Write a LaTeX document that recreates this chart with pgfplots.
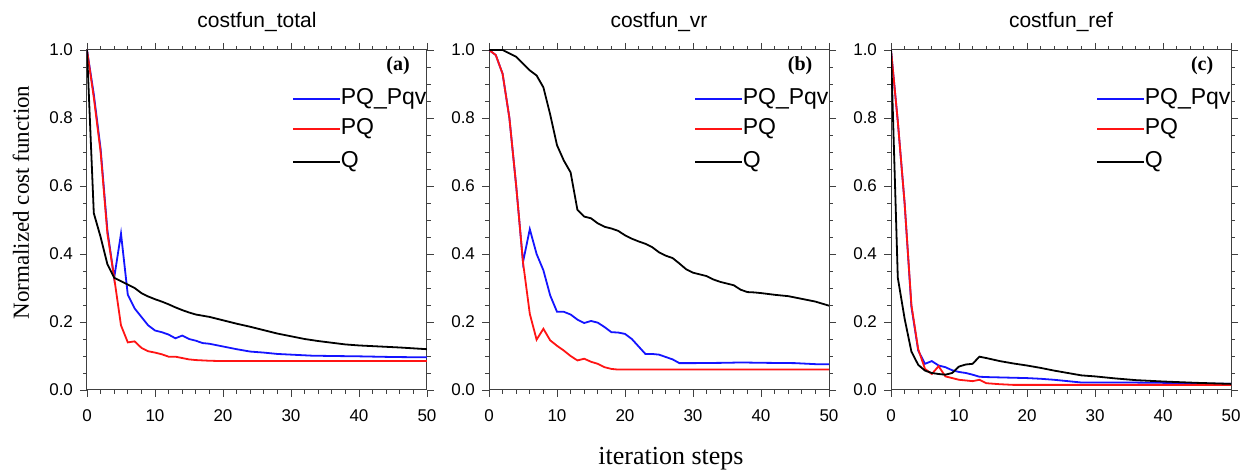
\documentclass[border=0pt]{standalone}
\usepackage{fontspec}
\setmainfont{Liberation Sans}
\newfontfamily\timesfont{Liberation Serif}
\usepackage{pgfplots}
\pgfplotsset{compat=1.18}

\pgfplotsset{panel/.style={
  width=170pt,height=170pt,scale only axis,
  xmin=0,xmax=50,ymin=0,ymax=1,
  xtick={0,10,...,50},minor x tick num=4,
  ytick={0,0.2,0.4,0.6,0.8,1.0},minor y tick num=3,
  tick align=outside,major tick length=3.5pt,minor tick length=1.8pt,
  tick style={black!75,line width=0.4pt},
  axis line style={black!75,line width=0.5pt},
  /pgf/number format/assume math mode=true,
  yticklabel style={/pgf/number format/.cd,fixed,fixed zerofill,precision=1},
  xticklabel style={yshift=-3pt},
  tick label style={font=\fontsize{8.5}{9}\selectfont},
  title style={font=\fontsize{10.5}{12}\selectfont,at={(0.5,1)},anchor=base,yshift=5pt},
  every axis plot/.append style={line width=0.9pt},
}}
\definecolor{ncblue}{RGB}{20,20,255}
\definecolor{ncred}{RGB}{255,20,20}
% legend: three entries, line then text
\newcommand\keys{%
  \draw[ncblue,line width=0.8pt] (rel axis cs:0.606,0.856) -- ++(23.5pt,0)
    node[anchor=west,inner sep=0pt,text=black,font=\fontsize{11.5}{14}\selectfont] {PQ\_Pqv};
  \draw[ncred,line width=0.8pt] (rel axis cs:0.606,0.768) -- ++(23.5pt,0)
    node[anchor=west,inner sep=0pt,text=black,font=\fontsize{11.5}{14}\selectfont] {PQ};
  \draw[black,line width=0.8pt] (rel axis cs:0.606,0.671) -- ++(23.5pt,0)
    node[anchor=west,inner sep=0pt,text=black,font=\fontsize{11.5}{14}\selectfont] {Q};
}

\begin{document}
\begin{tikzpicture}
% (a) total
\begin{axis}[panel,at={(43.5pt,40pt)},title={costfun\_total}]
\addplot[draw=ncblue] coordinates {(0,1.0)(1,0.87)(2,0.71)(3,0.47)(4,0.33)(5,0.46)(6,0.28)(7,0.24)(8,0.215)(9,0.19)
  (10,0.175)(11,0.17)(12,0.163)(13,0.152)(14,0.16)(15,0.15)(16,0.145)(17,0.138)(18,0.136)(19,0.132)(20,0.128)
  (22,0.12)(24,0.113)(26,0.11)(28,0.106)(30,0.104)(33,0.101)(36,0.1)(40,0.099)(45,0.097)(50,0.096)};
\addplot[draw=ncred] coordinates {(0,1.0)(1,0.86)(2,0.7)(3,0.46)(4,0.33)(5,0.19)(6,0.14)(7,0.143)(8,0.124)(9,0.114)
  (10,0.11)(11,0.105)(12,0.098)(13,0.098)(14,0.094)(15,0.09)(16,0.088)(18,0.086)(20,0.085)(50,0.085)};
\addplot[draw=black] coordinates {(0,1.0)(1,0.52)(2,0.45)(3,0.37)(4,0.33)(5,0.32)(6,0.31)(7,0.3)(8,0.285)(9,0.275)
  (10,0.267)(11,0.26)(12,0.252)(13,0.243)(14,0.235)(15,0.228)(16,0.222)(18,0.215)(20,0.205)(22,0.195)(24,0.186)
  (26,0.176)(28,0.166)(30,0.158)(32,0.15)(34,0.144)(36,0.139)(38,0.134)(40,0.131)(43,0.128)(46,0.125)(50,0.12)};
\keys
\node[font=\timesfont\bfseries\fontsize{10}{12}\selectfont] at (rel axis cs:0.915,0.953) {(a)};
\end{axis}
% (b) vr
\begin{axis}[panel,at={(244.5pt,40pt)},title={costfun\_vr}]
\addplot[draw=ncblue] coordinates {(0,1.0)(1,0.985)(2,0.93)(3,0.8)(4,0.6)(5,0.376)(6,0.473)(7,0.4)(8,0.352)(9,0.278)
  (10,0.23)(11,0.23)(12,0.222)(13,0.207)(14,0.197)(15,0.203)(16,0.198)(17,0.185)(18,0.17)(19,0.169)(20,0.165)
  (21,0.15)(22,0.128)(23,0.106)(24,0.106)(25,0.104)(26,0.097)(27,0.09)(28,0.079)(30,0.079)(35,0.08)(37,0.081)
  (40,0.08)(45,0.079)(48,0.076)(50,0.076)};
\addplot[draw=ncred] coordinates {(0,1.0)(1,0.985)(2,0.93)(3,0.8)(4,0.6)(5,0.376)(6,0.224)(7,0.148)(8,0.18)(9,0.146)
  (10,0.13)(11,0.116)(12,0.1)(13,0.087)(14,0.092)(15,0.083)(16,0.077)(17,0.067)(18,0.062)(19,0.06)(50,0.06)};
\addplot[draw=black] coordinates {(0,1.0)(2,1.0)(3,0.99)(4,0.98)(5,0.96)(6,0.94)(7,0.925)(8,0.89)(9,0.81)(10,0.72)
  (11,0.675)(12,0.64)(13,0.53)(14,0.51)(15,0.505)(16,0.49)(17,0.48)(18,0.475)(19,0.468)(20,0.455)(21,0.445)
  (22,0.437)(23,0.43)(24,0.42)(25,0.405)(26,0.395)(27,0.388)(28,0.372)(29,0.355)(30,0.345)(31,0.34)(32,0.335)
  (33,0.325)(34,0.318)(35,0.313)(36,0.308)(37,0.295)(38,0.288)(39,0.287)(40,0.285)(42,0.28)(44,0.276)
  (46,0.268)(48,0.26)(50,0.248)};
\keys
\node[font=\timesfont\bfseries\fontsize{10}{12}\selectfont] at (rel axis cs:0.915,0.953) {(b)};
\end{axis}
% (c) ref
\begin{axis}[panel,at={(445.5pt,40pt)},title={costfun\_ref}]
\addplot[draw=ncblue] coordinates {(0,1.0)(1,0.79)(2,0.55)(3,0.245)(4,0.116)(5,0.077)(6,0.085)(7,0.072)(8,0.067)(9,0.058)
  (10,0.053)(11,0.05)(12,0.045)(13,0.039)(14,0.038)(16,0.037)(18,0.036)(20,0.035)(22,0.033)(24,0.03)(26,0.026)
  (28,0.022)(35,0.022)(40,0.021)(45,0.019)(50,0.018)};
\addplot[draw=ncred] coordinates {(0,1.0)(1,0.79)(2,0.55)(3,0.25)(4,0.12)(5,0.062)(6,0.047)(7,0.07)(8,0.04)(9,0.035)
  (10,0.03)(11,0.028)(12,0.026)(13,0.03)(14,0.02)(16,0.017)(18,0.015)(50,0.015)};
\addplot[draw=black] coordinates {(0,1.0)(1,0.33)(2,0.21)(3,0.113)(4,0.074)(5,0.057)(6,0.05)(7,0.047)(8,0.045)(9,0.05)
  (10,0.069)(11,0.075)(12,0.077)(13,0.098)(14,0.094)(16,0.085)(18,0.078)(20,0.072)(22,0.065)(24,0.057)(26,0.05)
  (28,0.043)(30,0.04)(33,0.034)(36,0.029)(40,0.025)(45,0.021)(50,0.018)};
\keys
\node[font=\timesfont\bfseries\fontsize{10}{12}\selectfont] at (rel axis cs:0.915,0.953) {(c)};
\end{axis}
\node[rotate=90,font=\timesfont\fontsize{11.5}{13}\selectfont] at (10.5pt,133.75pt) {Normalized cost function};
\node[anchor=base,font=\timesfont\fontsize{13}{15}\selectfont,inner sep=0pt] at (335.5pt,2.5pt) {iteration steps};
\pgfresetboundingbox
\path[use as bounding box] (0,0) rectangle (624.5pt,235pt);
\end{tikzpicture}
\end{document}
